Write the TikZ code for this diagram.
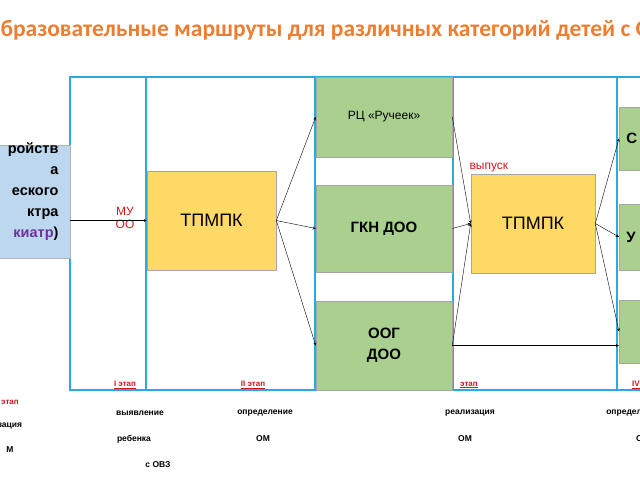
\documentclass[tikz,border=0pt]{standalone}
\usepackage{fontspec}
\setmainfont{Liberation Sans}
\newfontfamily\titlefont{Carlito}
\usetikzlibrary{positioning}
\definecolor{frameblue}{RGB}{41,170,225}
\definecolor{boxgreen}{RGB}{169,208,142}
\definecolor{boxyellow}{RGB}{255,217,102}
\definecolor{boxblue}{RGB}{189,215,238}
\definecolor{titleorange}{RGB}{237,125,49}
\definecolor{redtxt}{RGB}{210,20,30}
\definecolor{purpletxt}{RGB}{112,48,160}

\begin{document}
\begin{tikzpicture}[x=1pt, y=-1pt, >=stealth,
  box/.style={draw=gray!70, line width=0.6pt, inner sep=0pt, align=center},
  green box/.style={box, fill=boxgreen},
  yellow box/.style={box, fill=boxyellow, font=\fontsize{18}{20}\selectfont},
  red label/.style={text=redtxt, font=\fontsize{12}{13}\selectfont, align=center},
  stage/.style={text=redtxt, font=\fontsize{8}{9}\selectfont\bfseries},
  note/.style={font=\fontsize{8.5}{9}\selectfont\bfseries}]

\useasboundingbox (0,0) rectangle (640,480);
\clip (0,0) rectangle (640,480);

% title
\node [anchor=west, text=titleorange, font=\titlefont\fontsize{23.5}{25}\selectfont\bfseries]
  (title) at (-3,30) {бразовательные маршруты для различных категорий детей с ОВЗ};

% frame of the stages
\draw [frameblue, line width=1.6pt] (70,77) rectangle (660,390);
\foreach \x in {146,315,453,617}
  \draw [frameblue, line width=1.6pt] (\x,77) -- (\x,390);

% left box
\node [draw=gray!60, fill=boxblue, minimum width=90pt, minimum height=113pt,
  anchor=north east, inner sep=0pt] (start) at (70,145) {};
\node [anchor=east, align=right, font=\fontsize{14.5}{21}\selectfont\bfseries]
  (starttext) at (62,192) {ройств\\а\\еского\\ктра\\{\color{purpletxt}киатр})};

% first commission
\node [yellow box, minimum width=129pt, minimum height=99pt] (tpmpk-1) at (211.5,220.5) {ТПМПК};
\node [red label] (mu) at (125,218) {МУ\\ОО};

% green boxes
\node [green box, minimum width=136pt, minimum height=80pt, font=\fontsize{12}{13}\selectfont]
  (route-1) at (384,117) {РЦ «Ручеек»};
\node [green box, minimum width=136pt, minimum height=87pt, font=\fontsize{15}{16}\selectfont\bfseries]
  (route-2) at (384,228.5) {ГКН ДОО};
\node [green box, minimum width=136pt, minimum height=89pt, font=\fontsize{15}{21}\selectfont\bfseries]
  (route-3) at (384,345.5) {ООГ\\ДОО};

% second commission
\node [yellow box, minimum width=124pt, minimum height=99pt] (tpmpk-2) at (533,223.5) {ТПМПК};
\node [red label, anchor=south west] (release) at (466,176) {выпуск};

% right boxes
\foreach \y/\h/\l [count=\i] in {138.5/63/С, 237/66/У, 331.5/63/{}}
  \node [green box, minimum width=40pt, minimum height=\h pt, anchor=west,
    font=\fontsize{15}{16}\selectfont\bfseries, text width=34pt, align=left]
    (result-\i) at (619,\y) {\hspace{4pt}\l};

% connectors
\draw [->] (start.east |- tpmpk-1.west) -- (tpmpk-1.west);
\foreach \i in {1,2,3}
  \draw [->] (tpmpk-1.east) -- (route-\i.west);
\foreach \i in {1,2,3}
  \draw [->] (route-\i.east) -- (tpmpk-2.west);
\foreach \i in {1,2,3}
  \draw [->] (tpmpk-2.east) -- (result-\i.west);
\draw [->] (route-3.east) -- (route-3.east -| result-3.west);

% stage names
\foreach \x/\l in {125/I этап, 253/II этап, 469/этап, 636/IV}
  \node [stage] at (\x,385) {\underline{\l}};
\node [stage] (stage-0) at (10,402) {этап};

% notes under the stages
\foreach \x/\y/\l in {10/426/зация, 10/450/М, 140/413/выявление, 134/439/ребенка,
  158/465/с ОВЗ, 265/413/определение, 263/439/ОМ, 470/413/реализация,
  465/439/ОМ, 634/413/определение, 643/439/ОМ}
  \node [note] at (\x,\y) {\l};

\end{tikzpicture}
\end{document}
